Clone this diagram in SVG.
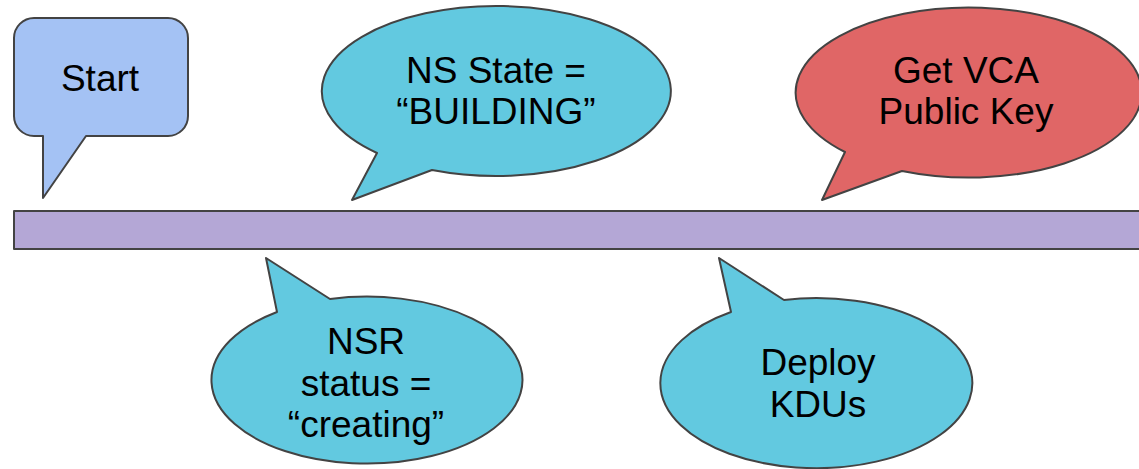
<svg xmlns="http://www.w3.org/2000/svg" width="1139" height="469" viewBox="0 0 1139 469">
  <style>
    .shape { stroke: #434343; stroke-width: 2; stroke-linejoin: round; }
    .blue { fill: #a4c2f4; }
    .cyan { fill: #62c9e0; }
    .red { fill: #e06666; }
    .bar { fill: #b4a7d6; }
    text { font-family: "Liberation Sans", Arial, sans-serif; font-size: 37px; fill: #000; text-anchor: middle; }
  </style>
  <rect width="1139" height="469" fill="#ffffff"/>

  <!-- timeline bar -->
  <g id="timeline">
    <rect class="shape bar" x="14" y="211" width="1140" height="38"/>
  </g>

  <!-- callouts pointing at the timeline -->
  <g id="start">
    <path class="shape blue" d="M34,18 H168 A20,20 0 0 1 188,38 V116 A20,20 0 0 1 168,136 H86 L43,198 V136 H34 A20,20 0 0 1 14,116 V38 A20,20 0 0 1 34,18 Z"/>
    <text x="100" y="91">Start</text>
  </g>

  <g id="ns-state">
    <path class="shape cyan" d="M377,153 A174.5,85 0 1 1 432,170 L352,200 Z"/>
    <text x="496" y="83">NS State =</text>
    <text x="496" y="124">“BUILDING”</text>
  </g>

  <g id="vca-key">
    <path class="shape red" d="M845,152 A173,85 0 1 1 902,171 L822,200 Z"/>
    <text x="966" y="83">Get VCA</text>
    <text x="966" y="124">Public Key</text>
  </g>

  <g id="nsr-status">
    <path class="shape cyan" d="M330,299 A155.5,83.5 0 1 1 277,312 L266,258 Z"/>
    <text x="366" y="354">NSR</text>
    <text x="366" y="396">status =</text>
    <text x="366" y="437">“creating”</text>
  </g>

  <g id="deploy-kdus">
    <path class="shape cyan" d="M784,300 A156,85 0 1 1 731,312 L719,258 Z"/>
    <text x="818" y="375">Deploy</text>
    <text x="818" y="417">KDUs</text>
  </g>
</svg>
